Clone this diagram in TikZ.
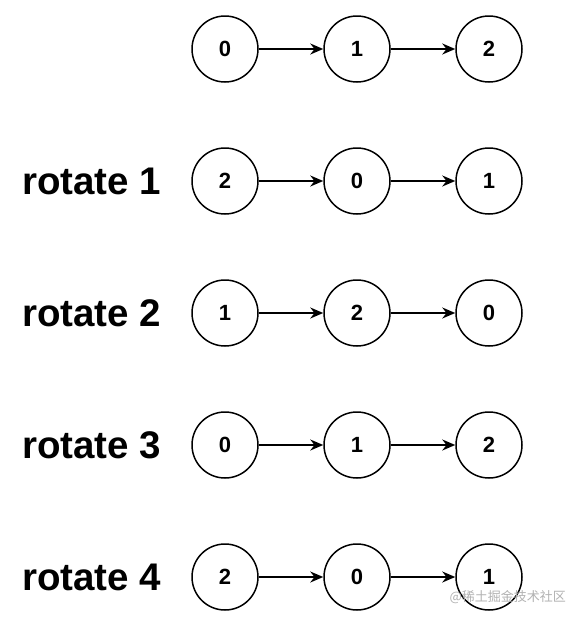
\documentclass[tikz,border=0pt]{standalone}
\usepackage{fontspec}
\setmainfont{Liberation Sans}
\newfontfamily\cjk{Noto Sans CJK SC}
\usetikzlibrary{arrows.meta}
\begin{document}
\begin{tikzpicture}[x=1pt,y=-1pt,
  nd/.style={circle,draw,line width=1.5pt,minimum size=66pt,inner sep=0pt,font=\fontsize{22}{22}\selectfont\bfseries},
  ar/.style={line width=1.5pt,-{Stealth[length=13pt,width=11pt]}},
  lab/.style={anchor=west,inner sep=0pt,font=\fontsize{38.5}{38.5}\selectfont\bfseries}]
\useasboundingbox[fill=white] (0,0) rectangle (579,619);
\foreach \r/\y/\a/\b/\c in {0/49/0/1/2,1/181/2/0/1,2/313/1/2/0,3/445/0/1/2,4/577/2/0/1}{
  \node[nd] (a\r) at (225,\y) {\a};
  \node[nd] (b\r) at (357,\y) {\b};
  \node[nd] (c\r) at (489,\y) {\c};
  \draw[ar] (a\r) -- (b\r);
  \draw[ar] (b\r) -- (c\r);
}
\foreach \r/\y in {1/181,2/313,3/445,4/577}{
  \node[lab] (l\r) at (22,\y) {rotate \r};
}
\node[anchor=east,inner sep=0pt,text=black!30,font=\cjk\fontsize{13}{13}\selectfont] (wm) at (566,597) {@稀土掘金技术社区};
\end{tikzpicture}
\end{document}
